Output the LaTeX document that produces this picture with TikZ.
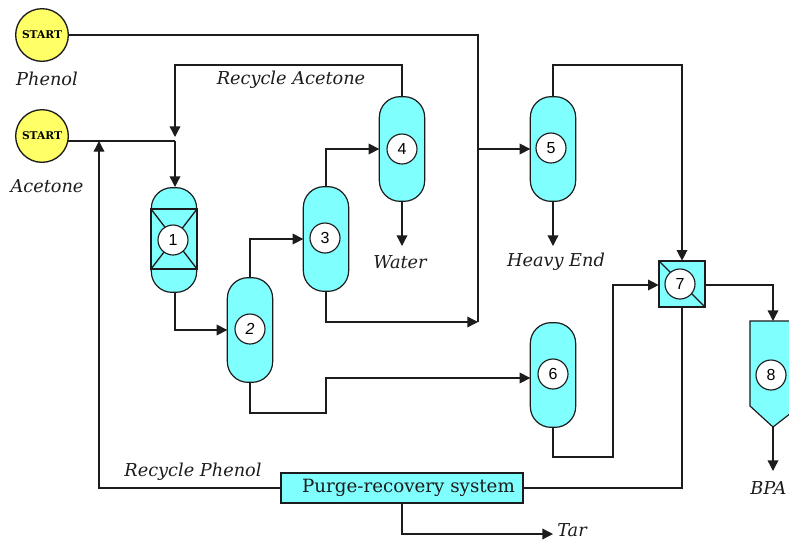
\documentclass[tikz,border=0pt]{standalone}
\usepackage{fontspec}
\setmainfont{DejaVu Serif}
\newfontfamily\numfont{Liberation Sans}
\usetikzlibrary{arrows.meta,calc}
\definecolor{aq}{RGB}{128,255,255}
\definecolor{yl}{RGB}{255,255,102}
\definecolor{ink}{RGB}{28,28,28}
\tikzset{
  lab/.style={font=\fontsize{13.3pt}{15pt}\selectfont\itshape,inner sep=0pt,text=ink},
  line/.style={draw=ink,line width=1pt,line join=miter},
  arr/.style={line,-{Triangle[length=8pt,width=8pt]}},
  vessel/.style={draw=ink,line width=0.9pt,fill=aq,rounded corners=15.5pt,minimum width=34pt,minimum height=78.5pt,inner sep=0pt,outer sep=0pt},
  tag/.style={circle,draw=ink,line width=0.85pt,fill=white,minimum size=22.5pt,inner sep=0pt,font=\numfont\fontsize{12pt}{13pt}\selectfont},
  startn/.style={circle,draw=ink,line width=1pt,fill=yl,minimum size=39.5pt,inner sep=0pt,outer sep=0pt,font=\fontsize{8pt}{9pt}\selectfont\bfseries},
  boxn/.style={draw=ink,line width=1.5pt,fill=aq,inner sep=0pt,outer sep=0pt}
}
\begin{document}
\begin{tikzpicture}[x=0.75pt,y=-0.75pt]
\useasboundingbox (0,0) rectangle (789,540);
\clip (0,0) rectangle (789,540);
% sources
\node[startn] (s1) at (42,35) {START};
\node[startn] (s2) at (42,136) {START};
\node[lab] (lp) at (47,79) {Phenol};
\node[lab] (la) at (47,186) {Acetone};
% vessels
\node[vessel] (v1) at (174,240) {};
\node[vessel] (v2) at (250,330) {};
\node[vessel] (v3) at (326,239) {};
\node[vessel] (v4) at (402,149) {};
\node[vessel] (v5) at (553,149) {};
\node[vessel] (v6) at (553,375) {};
\node[boxn,minimum width=35pt,minimum height=35pt] (v7) at (682,284) {};
% reactor packing of unit 1
\coordinate (v1a) at (151,209);
\coordinate (v1b) at (197,209);
\coordinate (v1c) at (197,269);
\coordinate (v1d) at (151,269);
\draw[line,line width=1.4pt] (v1a) rectangle (v1c);
\draw[line] (v1a) -- (v1c) (v1b) -- (v1d);
% mixer diagonal
\draw[line] (v7.north west) -- (v7.south east);
% unit 8
\coordinate (v8t) at (773,321);
\coordinate (v8b) at (773,427);
\draw[draw=ink,line width=0.9pt,fill=aq] (750,321) -- (800,321) -- (800,406) -- (v8b) -- (750,406) -- cycle;
% purge box
\node[boxn,minimum width=182pt,minimum height=23pt,text=ink] (pg) at (402,488) {};
\node[font=\fontsize{13.7pt}{15pt}\selectfont,text=ink,inner sep=0pt] (pgt) at (408.5,488) {Purge-recovery system};
% tags
\node[tag] (t1) at (173,240) {1};
\node[tag] (t2) at (250,329) {\itshape 2};
\node[tag] (t3) at (325,238) {3};
\node[tag] (t4) at (402,149) {4};
\node[tag] (t5) at (551,148) {5};
\node[tag] (t6) at (553,374) {6};
\node[tag] (t7) at (680,284) {7};
\node[tag] (t8) at (771,375) {8};
% labels
\node[lab] (lra) at (291,80) {Recycle Acetone};
\node[lab] (lw) at (400,262) {Water};
\node[lab] (lh) at (556,262) {Heavy End};
\node[lab] (lrp) at (193,472) {Recycle Phenol};
\node[lab] (lt) at (572,530.5) {Tar};
\node[lab,anchor=west] (lb) at (750,488) {BPA};
% junctions
\coordinate (j1) at (175,141);
\coordinate (j1s) at (175,137);
\coordinate (jr) at (99,141);
\coordinate (c1) at (478,35);
\coordinate (c2) at (478,149);
\coordinate (c3) at (478,322);
% connectors
\draw[line] (s1.east) -- (c1) -- (c3);
\draw[arr] (c2) -- (v5.west);
\draw[arr] (v4.north) |- (175,65) -- (j1s);
\draw[line] (s2.east |- j1) -- (j1);
\draw[arr] (j1) -- (175,187);
\draw[arr] (175,292) |- (v2.west);
\draw[arr] (v2.north) |- (v3.west);
\draw[arr] (v3.north) |- (v4.west);
\draw[arr] (v3.south) |- (c3);
\draw[arr] (v4.south) -- (402,246);
\draw[arr] (v5.south) -- (553,246);
\draw[arr] (v2.south) -- (250,413) -- (326,413) -- (326,378) -- (v6.west |- 0,378);
\draw[arr] (v5.north) -- (553,65) -| (v7.north);
\draw[arr] (v6.south) -- (553,457) -- (613,457) -- (613,285) -- (v7.west |- 0,285);
\draw[arr] (v7.east |- 0,285) -| (v8t);
\draw[arr] (v8b) -- (773,471);
\draw[line] (v7.south) |- (pg.east);
\draw[arr] (pg.west) -| (jr);
\draw[arr] (pg.south) |- (553,534);
\end{tikzpicture}
\end{document}
